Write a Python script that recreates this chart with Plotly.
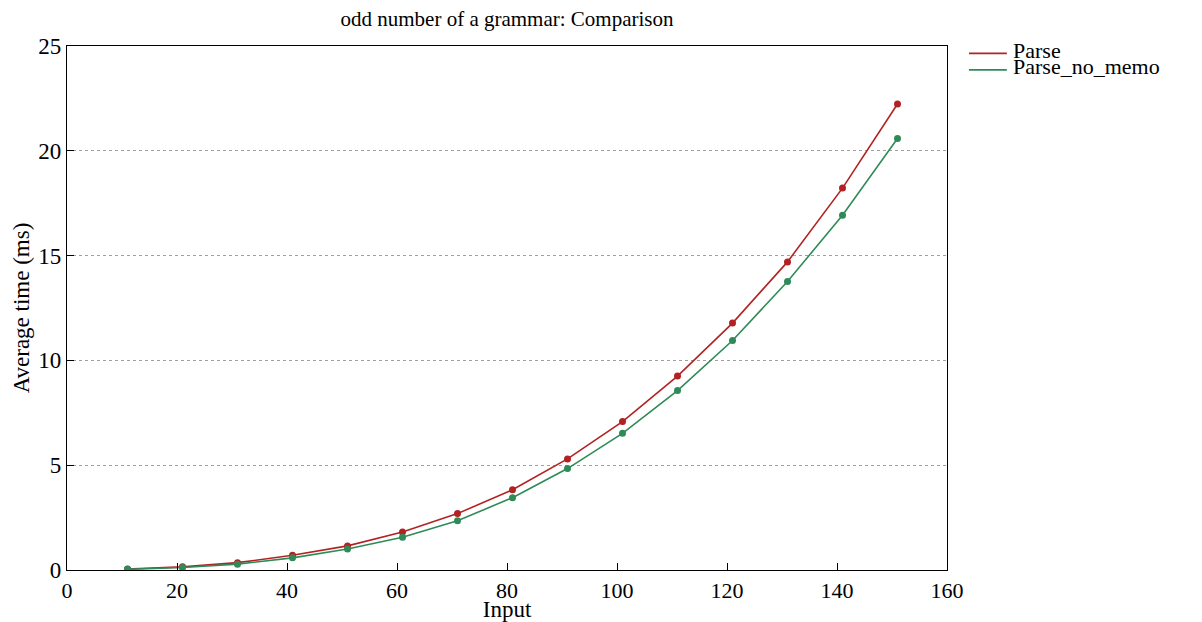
import plotly.graph_objects as go

inputs = [11, 21, 31, 41, 51, 61, 71, 81, 91, 101, 111, 121, 131, 141, 151]
parse_ms = [0.05, 0.15, 0.35, 0.70, 1.15, 1.81, 2.69, 3.83, 5.30, 7.08, 9.25, 11.78, 14.70, 18.22, 22.23]
parse_no_memo_ms = [0.03, 0.12, 0.28, 0.58, 1.00, 1.56, 2.35, 3.45, 4.84, 6.52, 8.56, 10.95, 13.76, 16.93, 20.59]

series_names = ["Parse", "Parse_no_memo"]
series_colors = ["#b22222", "#2e8b57"]
x_ticks = [0, 20, 40, 60, 80, 100, 120, 140, 160]
y_ticks = [0, 5, 10, 15, 20, 25]

FONT = "Liberation Serif, Times New Roman, serif"

fig = go.Figure()
for name, vals, col in zip(series_names, [parse_ms, parse_no_memo_ms], series_colors):
    fig.add_trace(go.Scatter(
        x=inputs, y=vals, name=name, mode="lines+markers",
        line=dict(color=col, width=1.6),
        marker=dict(color=col, size=7),
        showlegend=False,
    ))

# legend drawn as paper-anchored line samples + labels
leg_y = [0.986, 0.9545]
for name, col, ly in zip(series_names, series_colors, leg_y):
    fig.add_shape(type="line", xref="paper", yref="paper",
                  x0=1.025, x1=1.068, y0=ly, y1=ly,
                  line=dict(color=col, width=1.6))
    fig.add_annotation(xref="paper", yref="paper", x=1.073, y=ly + 0.006,
                       xanchor="left", yanchor="middle", showarrow=False,
                       text=name, font=dict(family=FONT, size=22, color="black"))

fig.update_layout(
    width=1202, height=622,
    margin=dict(l=67, r=255, t=46, b=52),
    paper_bgcolor="white", plot_bgcolor="white",
    font=dict(family=FONT, color="black"),
    title=dict(text="odd number of a grammar: Comparison", x=0.5, xref="paper",
               xanchor="center", y=1 - 19 / 622, yanchor="middle",
               font=dict(family=FONT, size=21, color="black")),
)
fig.update_xaxes(
    range=[0, 160], tickvals=x_ticks, ticktext=[str(t) for t in x_ticks],
    ticks="inside", ticklen=7, tickcolor="black", tickwidth=1,
    showline=True, linecolor="black", linewidth=1.3, mirror=True,
    showgrid=False, zeroline=False, automargin=False,
    tickfont=dict(family=FONT, size=22, color="black"),
    title=dict(text="Input", font=dict(family=FONT, size=23, color="black"), standoff=0),
)
fig.update_yaxes(
    range=[0, 25], tickvals=y_ticks, ticktext=[str(t) for t in y_ticks],
    ticks="inside", ticklen=7, tickcolor="black", tickwidth=1,
    showline=True, linecolor="black", linewidth=1.3, mirror=True,
    showgrid=True, gridcolor="#a0a0a0", griddash="dot", gridwidth=1,
    zeroline=False, automargin=False,
    tickfont=dict(family=FONT, size=23, color="black"),
    title=dict(text="Average time (ms)", font=dict(family=FONT, size=23, color="black"), standoff=2),
)

fig.write_html("out.html")
